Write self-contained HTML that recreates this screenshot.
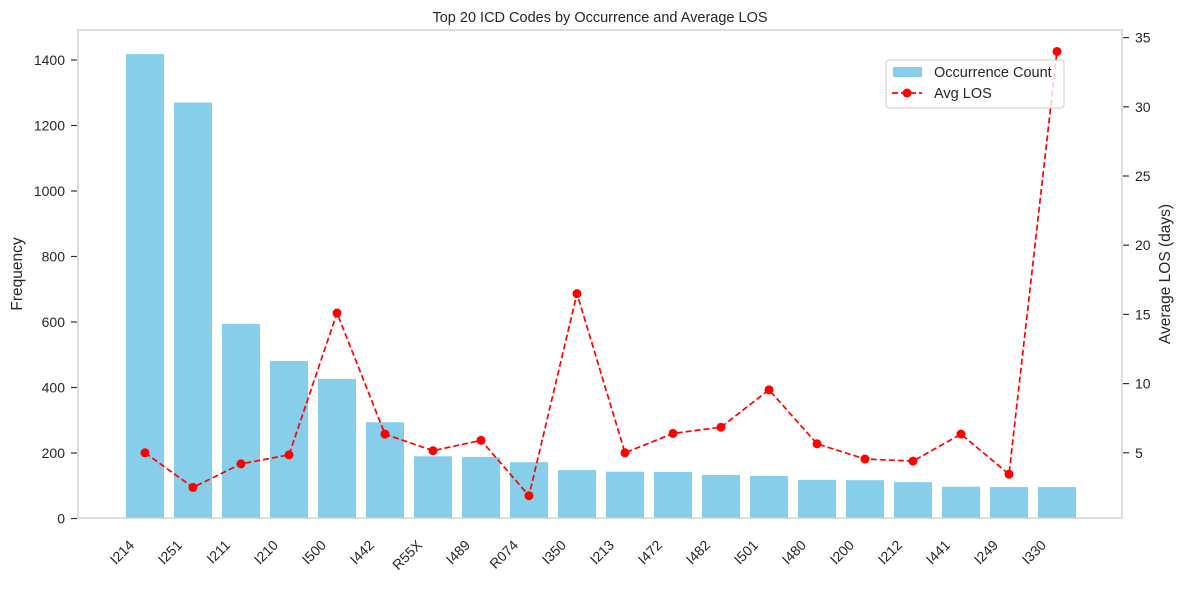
<!DOCTYPE html>
<html><head><meta charset="utf-8"><style>
body{margin:0;background:#fff;font-family:"Liberation Sans",sans-serif}
svg text{font-family:"Liberation Sans",sans-serif;fill:#262626}
</style></head><body>
<svg id="c" width="1184" height="584"></svg>
<script>
const categories=["I214","I251","I211","I210","I500","I442","R55X","I489","R074","I350","I213","I472","I482","I501","I480","I200","I212","I441","I249","I330"];
const counts=[1418,1270,594,481,426,294,190,188,172,148,143,142,133,130,118,117,111,97,96,96];
const avgLos=[5.0,2.5,4.2,4.85,15.1,6.35,5.15,5.9,1.9,16.5,5.0,6.4,6.85,9.55,5.65,4.55,4.4,6.35,3.45,34.0];
const leftTicks=[0,200,400,600,800,1000,1200,1400];
const rightTicks=[5,10,15,20,25,30,35];
const NS="http://www.w3.org/2000/svg";
const svg=document.getElementById('c');
const L=78,R=1122,T=30,B=518;
const yL=v=>518.5-v*(65.5/200);
const yR=v=>522-v*13.84;
const xC=i=>145+i*48;
function el(t,a,p){const e=document.createElementNS(NS,t);for(const k in a)e.setAttribute(k,a[k]);(p||svg).appendChild(e);return e;}
const title=el('text',{x:600,y:22,'text-anchor':'middle','font-size':14.5});title.textContent="Top 20 ICD Codes by Occurrence and Average LOS";

counts.forEach((v,i)=>{const b=el('rect',{x:xC(i)-19,y:yL(v),width:38,height:yL(0)-yL(v),fill:'#87ceeb'});
});
const pts=avgLos.map((v,i)=>xC(i)+','+yR(v)).join(' ');
const line=el('polyline',{points:pts,fill:'none',stroke:'#ff0000','stroke-width':1.7,'stroke-dasharray':'6,3'});

avgLos.forEach((v,i)=>{const c=el('circle',{cx:xC(i),cy:yR(v),r:4.5,fill:'#ff0000'});
});
const fr=el('rect',{x:L,y:T,width:R-L,height:B-T,fill:'none',stroke:'#cccccc','stroke-width':1.3});

leftTicks.forEach(v=>{const y=yL(v);el('line',{x1:71,x2:77,y1:y,y2:y,stroke:'#333','stroke-width':1.2});
const t=el('text',{x:65,y:y+5,'text-anchor':'end','font-size':14});t.textContent=v;
});
rightTicks.forEach(v=>{const y=yR(v);el('line',{x1:1123,x2:1129,y1:y,y2:y,stroke:'#333','stroke-width':1.2});
const t=el('text',{x:1135,y:y+5,'font-size':14});t.textContent=v;
});
categories.forEach((c,i)=>{const x=xC(i)-10,y=546;
const t=el('text',{x:x,y:y,'text-anchor':'end','font-size':14,transform:`rotate(-45 ${x} ${y})`});t.textContent=c;
});
const yl=el('text',{x:22,y:274,'text-anchor':'middle','font-size':15.5,transform:'rotate(-90 22 274)'});yl.textContent="Frequency";

const yr=el('text',{x:1170,y:274,'text-anchor':'middle','font-size':15.5,transform:'rotate(-90 1170 274)'});yr.textContent="Average LOS (days)";

const lg=el('g',{});
el('rect',{x:886,y:60,width:178,height:48,rx:3,fill:'#fff','fill-opacity':0.8,stroke:'#ccc'},lg);
el('rect',{x:893,y:67,width:29,height:10,fill:'#87ceeb'},lg);
const t1=el('text',{x:934,y:77,'font-size':14.5},lg);t1.textContent="Occurrence Count";
el('line',{x1:892,x2:922,y1:93,y2:93,stroke:'#f00','stroke-width':1.7,'stroke-dasharray':'6,3'},lg);
el('circle',{cx:907,cy:93,r:4.5,fill:'#f00'},lg);
const t2=el('text',{x:934,y:98,'font-size':14.5},lg);t2.textContent="Avg LOS";
</script>
</body></html>
